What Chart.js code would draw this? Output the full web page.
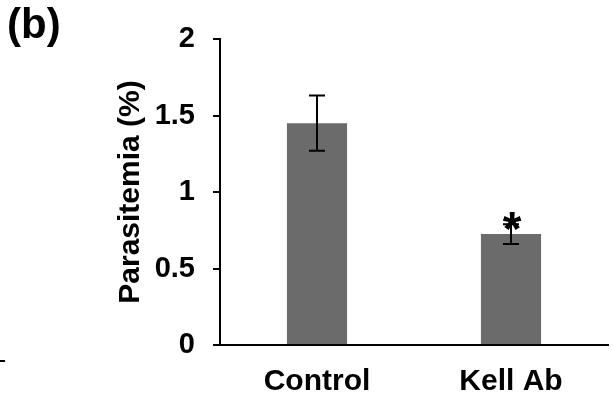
<!DOCTYPE html>
<html>
<head>
<meta charset="utf-8">
<script src="https://cdn.jsdelivr.net/npm/chart.js@4"></script>
<style>
  body { margin: 0; background: #fff; }
  #wrap { position: relative; width: 613px; height: 406px; }
  #panel { position: absolute; left: 7px; top: 0px; font: bold 42px "Liberation Sans", Arial, sans-serif; color: #000; }
  #dash { position: absolute; left: 0; top: 360px; width: 5px; height: 2px; background: #000; }
</style>
</head>
<body>
<div id="wrap">
  <canvas id="grafico" width="613" height="406"></canvas>
  <div id="panel">(b)</div>
  <div id="dash"></div>
</div>
<script>
const categorias = ["Control", "Kell Ab"];
const parasitemia = [1.45, 0.725];
const errores = [0.18, 0.065];
const significativo = [false, true];
const ticksY = [0, 0.5, 1, 1.5, 2];

const fuente = "'Liberation Sans', Arial, sans-serif";

// barras de error y asterisco
const barrasError = {
  id: "barrasError",
  afterDatasetsDraw(chart) {
    const ctx = chart.ctx;
    const y = chart.scales.y;
    const meta = chart.getDatasetMeta(0);
    ctx.save();
    ctx.strokeStyle = "#000";
    ctx.lineWidth = 2;
    meta.data.forEach((bar, i) => {
      const top = y.getPixelForValue(parasitemia[i] + errores[i]);
      const bot = y.getPixelForValue(parasitemia[i] - errores[i]);
      ctx.beginPath();
      ctx.moveTo(bar.x, top); ctx.lineTo(bar.x, bot);
      ctx.moveTo(bar.x - 8, top); ctx.lineTo(bar.x + 8, top);
      ctx.moveTo(bar.x - 8, bot); ctx.lineTo(bar.x + 8, bot);
      ctx.stroke();
      if (significativo[i]) {
        ctx.fillStyle = "#000";
        ctx.font = "bold 48px " + fuente;
        ctx.textAlign = "center";
        ctx.textBaseline = "alphabetic";
        ctx.fillText("*", bar.x + 1, top + 21);
      }
    });
    ctx.restore();
  }
};

new Chart(document.getElementById("grafico"), {
  type: "bar",
  data: {
    labels: categorias,
    datasets: [{
      data: parasitemia,
      backgroundColor: "#6b6b6b",
      barPercentage: 0.31,
      categoryPercentage: 1
    }]
  },
  options: {
    responsive: false,
    animation: false,
    layout: { padding: { left: 100, right: 5, top: 39, bottom: 0 } },
    plugins: { legend: { display: false }, tooltip: { enabled: false } },
    scales: {
      x: {
        grid: { display: false, drawTicks: false },
        border: { color: "#000", width: 2 },
        ticks: { color: "#000", padding: 19, font: { family: fuente, size: 30, weight: "bold" } },
        afterFit(s) { s.height = 61; }
      },
      y: {
        min: 0,
        max: 2,
        afterBuildTicks(s) { s.ticks = ticksY.map(v => ({ value: v })); },
        grid: { drawOnChartArea: false, drawTicks: true, tickLength: 7, color: "#000", lineWidth: 2 },
        border: { color: "#000", width: 2 },
        ticks: {
          color: "#000",
          padding: 18,
          font: { family: fuente, size: 29, weight: "bold" },
          callback: v => String(v)
        },
        title: {
          display: true,
          text: "Parasitemia (%)",
          color: "#000",
          padding: { top: 13, bottom: 0 },
          font: { family: fuente, size: 30, weight: "bold" }
        },
        afterFit(s) { s.width = 120; }
      }
    }
  },
  plugins: [barrasError]
});
</script>
</body>
</html>
